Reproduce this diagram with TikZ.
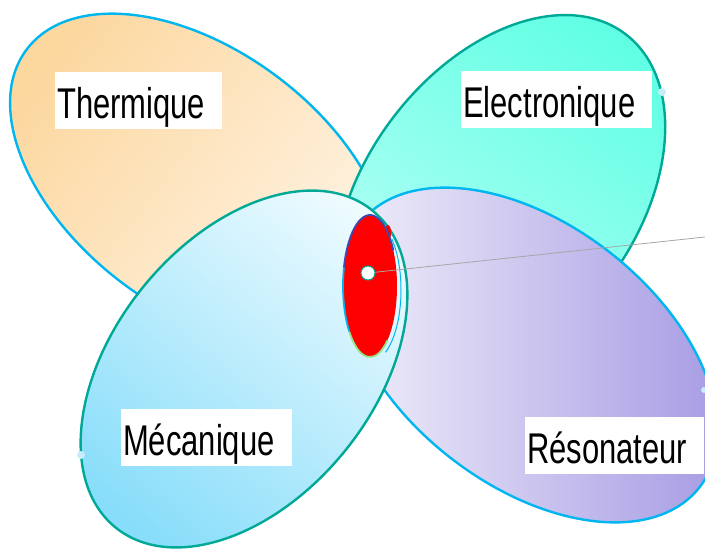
\documentclass[tikz,border=0pt]{standalone}
\usepackage{fontspec}
\setmainfont{Liberation Sans}[FakeStretch=0.72]
\usepackage{xcolor}
\definecolor{thermD}{RGB}{252,215,158}
\definecolor{thermL}{RGB}{255,245,232}
\definecolor{elecD}{RGB}{96,255,228}
\definecolor{elecL}{RGB}{190,255,247}
\definecolor{mecaD}{RGB}{135,221,250}
\definecolor{mecaL}{RGB}{238,251,255}
\definecolor{resoL}{RGB}{246,244,252}
\definecolor{resoD}{RGB}{162,151,226}
\definecolor{skyline}{RGB}{0,182,240}
\definecolor{tealline}{RGB}{0,168,150}
\definecolor{spotblue}{RGB}{60,72,180}
\definecolor{spotgreen}{RGB}{150,226,130}
\tikzset{
  % petals
  petal/.style={line width=2.4pt},
  knob/.style={fill=cyan!22},
  % white label boxes
  labelbox/.style={fill=white, anchor=north west, inner xsep=0pt, inner ysep=0pt,
    text height=46pt, text depth=11pt, font=\fontsize{43}{50}\selectfont,
    execute at begin node={\hspace{2pt}}, execute at end node={\hspace{17pt}}},
  pinmark/.style={circle, fill=white, draw=tealline, line width=1pt, minimum size=14pt, inner sep=0pt},
}

\begin{document}
\begin{tikzpicture}[x=1pt, y=-1pt]
    \useasboundingbox (0,0) rectangle (705,550);
    % Thermique (top left)
    \shadedraw[petal, draw=skyline, left color=thermD, right color=thermL, shading angle=53, rotate around={-37:(200,180)}]
      (200,180) ellipse [x radius=217, y radius=129];
    % Electronique (top right)
    \shadedraw[petal, draw=tealline, left color=elecL, right color=elecD, shading angle=143, rotate around={53:(500,200)}]
      (500,200) ellipse [x radius=208, y radius=135];
    \fill[knob] (662,92) circle [radius=4];
    % Resonateur (bottom right)
    \shadedraw[petal, draw=skyline, left color=resoL, right color=resoD, rotate around={-38:(530,355)}]
      (530,355) ellipse [x radius=215, y radius=130];
    \fill[knob] (704,390) circle [radius=3];
    % Mecanique (bottom left)
    \shadedraw[petal, draw=tealline, left color=mecaD, right color=mecaL, shading angle=141, rotate around={51:(244,369)}]
      (244,369) ellipse [x radius=204, y radius=130];
    \fill[knob] (81,455) circle [radius=4];
    % Labels
    \node[labelbox] (therm) at (55,72) {Thermique};
    \node[labelbox] (elec) at (461,71) {Electronique};
    \node[labelbox] (meca) at (121,409) {Mécanique};
    \node[labelbox] (reso) at (525,417) {Résonateur};
    % Red spot in the middle
    \fill[red] (370,286) ellipse [x radius=27, y radius=71];
    \fill[red] (388,233) ellipse [x radius=3, y radius=8];
    \draw[spotblue, line width=1.8pt] (370,286) ++(195:27 and 71) arc [start angle=195, end angle=330, x radius=27, y radius=71];
    \draw[skyline, line width=1.8pt] (370,286) ++(140:27 and 71) arc [start angle=140, end angle=195, x radius=27, y radius=71];
    \draw[spotgreen, line width=1.8pt] (370,286) ++(50:27 and 71) arc [start angle=50, end angle=140, x radius=27, y radius=71];
    \draw[skyline, line width=1pt] (370,290) ++(-45:31 and 72) arc [start angle=-45, end angle=60, x radius=31, y radius=72];
    % Pin and leader line
    \node[pinmark] (pin) at (368,273) {};
    \coordinate (pinend) at (705,237);
    \draw[gray!70, line width=0.8pt] (pin) -- (pinend);
\end{tikzpicture}
\end{document}
